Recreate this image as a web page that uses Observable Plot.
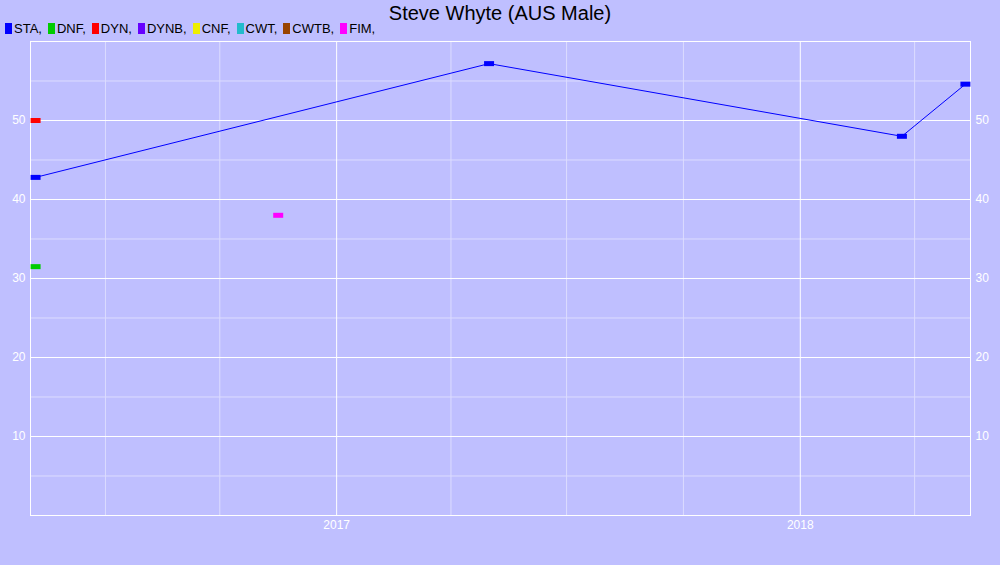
<!DOCTYPE html>
<html>
<head>
<meta charset="utf-8">
<script src="https://cdn.jsdelivr.net/npm/d3@7"></script>
<script src="https://cdn.jsdelivr.net/npm/@observablehq/plot@0.6"></script>
<style>
  html, body { margin: 0; padding: 0; background: #BFBFFF; overflow: hidden; }
  body { width: 1000px; height: 565px; font-family: "Liberation Sans", Arial, sans-serif; }
  #header { height: 36px; position: relative; }
  #title { position: absolute; left: 0; right: 0; top: 1px; text-align: center; font-size: 20px; color: #000; line-height: 24px; }
  #legend { position: absolute; left: 5px; top: 21px; font-size: 13px; line-height: 15px; color: #000; display: flex; white-space: pre; }
  .item { display: flex; align-items: center; margin-right: 6px; }
  .sw { display: inline-block; width: 7px; height: 11px; margin-right: 2px; }
  svg { display: block; }
</style>
</head>
<body>
<div id="header"><div id="title"></div><div id="legend"></div></div>
<div id="chart"></div>
<script>
const titleText = "Steve Whyte (AUS Male)";
const seriesNames = ["STA", "DNF", "DYN", "DYNB", "CNF", "CWT", "CWTB", "FIM"];
const seriesColors = ["#0000FF", "#00CC00", "#FF0000", "#6600FF", "#EEEE00", "#22BBCC", "#994400", "#FF00FF"];

// STA series (connected)
const staDates = ["2016-05-09", "2017-05-01", "2018-03-22", "2018-05-11"];
const staValues = [42.8, 57.2, 48.0, 54.6];
// Other single points
const otherSeries = ["DYN", "DNF", "FIM"];
const otherDates = ["2016-05-09", "2016-05-09", "2016-11-16"];
const otherValues = [50.0, 31.5, 38.0];

const xDomain = ["2016-05-05", "2018-05-15"];
const yDomain = [0, 60];
const yMajor = [10, 20, 30, 40, 50];
const yMinor = [5, 15, 25, 35, 45, 55];
const xYears = ["2017-01-01", "2018-01-01"];
const xQuarters = ["2016-07-03", "2016-10-01", "2017-04-01", "2017-07-01", "2017-10-01", "2018-04-01"];

document.getElementById("title").textContent = titleText;
const legend = document.getElementById("legend");
seriesNames.forEach((name, i) => {
  const item = document.createElement("span");
  item.className = "item";
  const sw = document.createElement("span");
  sw.className = "sw";
  sw.style.background = seriesColors[i];
  item.appendChild(sw);
  const t = document.createElement("span");
  t.textContent = name + ",";
  item.appendChild(t);
  legend.appendChild(item);
});

const sta = staDates.map((d, i) => ({date: new Date(d), value: staValues[i], series: "STA"}));
const others = otherDates.map((d, i) => ({date: new Date(d), value: otherValues[i], series: otherSeries[i]}));
const points = [...sta, ...others];

const rectSymbol = { draw(context) { context.rect(-5, -2.5, 10, 5); } };
const light = "#DCDCFF";

const chart = Plot.plot({
  width: 1000,
  height: 529,
  marginTop: 5,
  marginBottom: 50,
  marginLeft: 30,
  marginRight: 30,
  style: { background: "transparent", fontFamily: "Liberation Sans, Arial, sans-serif", fontSize: "12px" },
  x: { type: "utc", domain: xDomain.map(d => new Date(d)) },
  y: { domain: yDomain },
  color: { domain: seriesNames, range: seriesColors },
  marks: [
    Plot.ruleY(yMinor, { stroke: light, strokeWidth: 1 }),
    Plot.ruleX(xQuarters.map(d => new Date(d)), { stroke: light, strokeWidth: 1 }),
    Plot.ruleY(yMajor, { stroke: "white", strokeWidth: 1 }),
    Plot.ruleX(xYears.map(d => new Date(d)), { stroke: "white", strokeWidth: 1 }),
    Plot.frame({ stroke: "white", strokeWidth: 1 }),
    Plot.line(sta, { x: "date", y: "value", stroke: "#0000FF", strokeWidth: 1 }),
    Plot.dot(points, { x: "date", y: "value", fill: "series", symbol: rectSymbol, r: 3, stroke: null }),
    Plot.axisY({ anchor: "left", ticks: yMajor, tickSize: 0, tickPadding: 5, color: "white", fontSize: 12, label: null }),
    Plot.axisY({ anchor: "right", ticks: yMajor, tickSize: 0, tickPadding: 5, color: "white", fontSize: 12, label: null }),
    Plot.axisX({ ticks: xYears.map(d => new Date(d)), tickFormat: d3.utcFormat("%Y"), tickSize: 0, tickPadding: 5, color: "white", fontSize: 12, label: null })
  ]
});
document.getElementById("chart").appendChild(chart);
</script>
</body>
</html>
